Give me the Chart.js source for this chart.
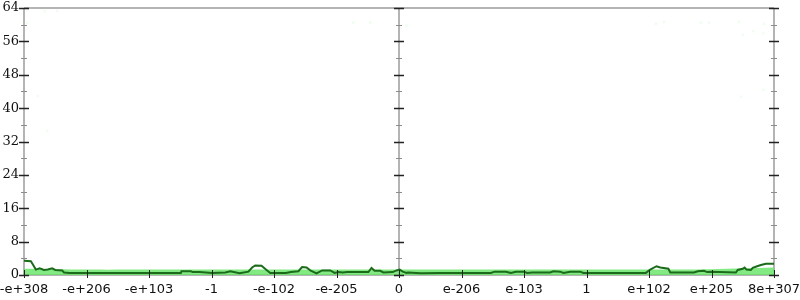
<!DOCTYPE html>
<html>
<head>
<meta charset="utf-8">
<script src="https://cdn.jsdelivr.net/npm/chart.js@4/dist/chart.umd.min.js"></script>
<style>
  html, body { margin:0; padding:0; background:#fff; }
  #wrap { width:800px; height:300px; }
</style>
</head>
<body>
<div id="wrap"><canvas id="chart" width="800" height="300"></canvas></div>
<script>
// ===== DATA =====
// x is in tick-slot units: -6 .. 6 (one slot per label)
const xLabels = ['-e+308','-e+206','-e+103','-1','-e-102','-e-205','0','e-206','e-103','1','e+102','e+205','8e+307'];
const yTicks = [0, 8, 16, 24, 32, 40, 48, 56, 64];

const lineX = [-6.00,-5.89,-5.86,-5.81,-5.75,-5.68,-5.62,-5.55,-5.50,-5.39,-5.36,-5.27,-3.49,-3.48,-3.33,-3.30,-3.19,-2.99,-2.78,-2.70,-2.55,-2.41,-2.35,-2.30,-2.20,-2.11,-2.06,-1.81,-1.73,-1.61,-1.55,-1.48,-1.42,-1.32,-1.23,-1.10,-1.03,-0.97,-0.90,-0.83,-0.49,-0.44,-0.39,-0.30,-0.25,-0.10,-0.04,0.01,0.06,0.12,0.14,0.35,0.66,1.47,1.53,1.71,1.79,1.87,2.00,2.05,2.13,2.42,2.47,2.58,2.63,2.74,2.90,2.95,3.95,4.02,4.12,4.18,4.31,4.34,4.72,4.78,4.88,4.93,4.99,5.39,5.42,5.50,5.53,5.56,5.63,5.66,5.73,5.79,5.87,6.00];
const lineY = [3.4,3.3,2.6,1.3,1.6,1.2,1.3,1.6,1.2,1.1,0.6,0.5,0.5,0.9,0.9,0.7,0.7,0.5,0.6,0.9,0.4,0.8,1.8,2.3,2.2,1.1,0.5,0.5,0.7,0.9,1.9,1.8,1.1,0.4,1.1,1.1,0.5,0.7,0.6,0.7,0.7,1.7,1.0,1.0,0.6,0.7,1.1,1.3,0.8,0.5,0.6,0.4,0.5,0.5,0.8,0.8,0.5,0.8,0.8,0.5,0.6,0.6,0.9,0.8,0.5,0.8,0.8,0.5,0.5,1.3,2.1,1.8,1.5,0.6,0.6,0.9,1.0,0.7,0.8,0.6,1.2,1.5,1.8,1.3,1.2,1.7,2.1,2.4,2.7,2.7];

const bandX = [-6, -5, -4, -3, -2, -1, 0, 1, 2, 3, 4, 5, 5.5, 6];
const bandY = [1.5, 1.3, 1.3, 1.3, 1.3, 1.3, 1.3, 1.3, 1.3, 1.3, 1.3, 1.4, 1.6, 1.8];

const dotX = [-5.94,-5.67,-5.47,-5.95,-5.78,-5.63,4.11,4.24,4.83,4.96,5.44,5.50,5.67,5.84,5.83,5.47,5.83,-0.73,-0.46,0.12];
const dotY = [63.6,63.3,63.3,60.4,42.9,34.5,60.2,60.7,60.5,60.5,60.7,57.6,58.5,60.2,58.0,42.7,44.4,60.5,60.5,59.8];

// ===== AXIS DECORATION =====
// axes lines, crossing ticks and labels drawn from the scales
const axisDeco = {
  id: 'axisDeco',
  beforeDatasetsDraw(chart) {
    const { ctx, scales: { x, y } } = chart;
    const L = x.getPixelForValue(-6), R = x.getPixelForValue(6);
    const T = y.getPixelForValue(64), B = y.getPixelForValue(0);
    ctx.save();
    ctx.strokeStyle = '#b4b4b4';
    ctx.lineWidth = 2;
    ctx.beginPath();
    ctx.moveTo(L, T); ctx.lineTo(R, T);
    ctx.moveTo(L, B); ctx.lineTo(R, B);
    [L, x.getPixelForValue(0), R].forEach(px => {
      ctx.moveTo(px, T); ctx.lineTo(px, B + 1);
    });
    ctx.stroke();
    ctx.restore();
  },
  afterDatasetsDraw(chart) {
    const { ctx, scales: { x, y } } = chart;
    const B = y.getPixelForValue(0);
    const axes = [x.getPixelForValue(-6), x.getPixelForValue(0), x.getPixelForValue(6)];
    ctx.save();
    for (let v = 0; v <= 64; v += 4) {
      const py = Math.round(y.getPixelForValue(v)) + 0.5;
      const major = v % 8 === 0;
      ctx.strokeStyle = major ? '#222222' : '#8c8c8c';
      ctx.lineWidth = major ? 1.5 : 1;
      const half = major ? 5 : 3;
      ctx.beginPath();
      axes.forEach(px => { ctx.moveTo(px - half, py); ctx.lineTo(px + half, py); });
      ctx.stroke();
    }
    ctx.strokeStyle = '#222222';
    ctx.lineWidth = 1;
    ctx.beginPath();
    xLabels.forEach((_, i) => {
      const px = Math.round(x.getPixelForValue(i - 6)) + 0.5;
      ctx.moveTo(px, B - 5); ctx.lineTo(px, B + 3);
    });
    ctx.stroke();

    ctx.fillStyle = '#111111';
    ctx.font = '13px "DejaVu Serif"';
    ctx.textAlign = 'right';
    ctx.textBaseline = 'middle';
    yTicks.forEach(v => ctx.fillText(String(v), 19, y.getPixelForValue(v)));
    ctx.font = '13px "DejaVu Sans"';
    ctx.textAlign = 'center';
    ctx.textBaseline = 'top';
    xLabels.forEach((t, i) => ctx.fillText(t, x.getPixelForValue(i - 6), B + 8));
    ctx.restore();
  }
};

const toPts = (xs, ys) => xs.map((v, i) => ({ x: v, y: ys[i] }));

new Chart(document.getElementById('chart'), {
  type: 'line',
  data: {
    datasets: [
      { label: 'trace', data: toPts(lineX, lineY), borderColor: '#1b6b1b', borderWidth: 2,
        pointRadius: 0, fill: false, tension: 0, order: 1 },
      { label: 'band', data: toPts(bandX, bandY), borderColor: 'rgba(0,0,0,0)', borderWidth: 0,
        backgroundColor: 'rgba(100,228,100,0.8)', pointRadius: 0, fill: 'origin', tension: 0.3, order: 2 },
      { label: 'dots', type: 'scatter', data: toPts(dotX, dotY), backgroundColor: 'rgba(205,248,205,0.3)',
        borderWidth: 0, pointRadius: 1.5, order: 3 }
    ]
  },
  options: {
    responsive: false, animation: false,
    layout: { padding: { top: 8, right: 26, left: 24, bottom: 25 } },
    plugins: { legend: { display: false }, tooltip: { enabled: false } },
    scales: {
      x: { type: 'linear', min: -6, max: 6, display: false },
      y: { type: 'linear', min: 0, max: 64, display: false }
    }
  },
  plugins: [axisDeco]
});
</script>
</body>
</html>
